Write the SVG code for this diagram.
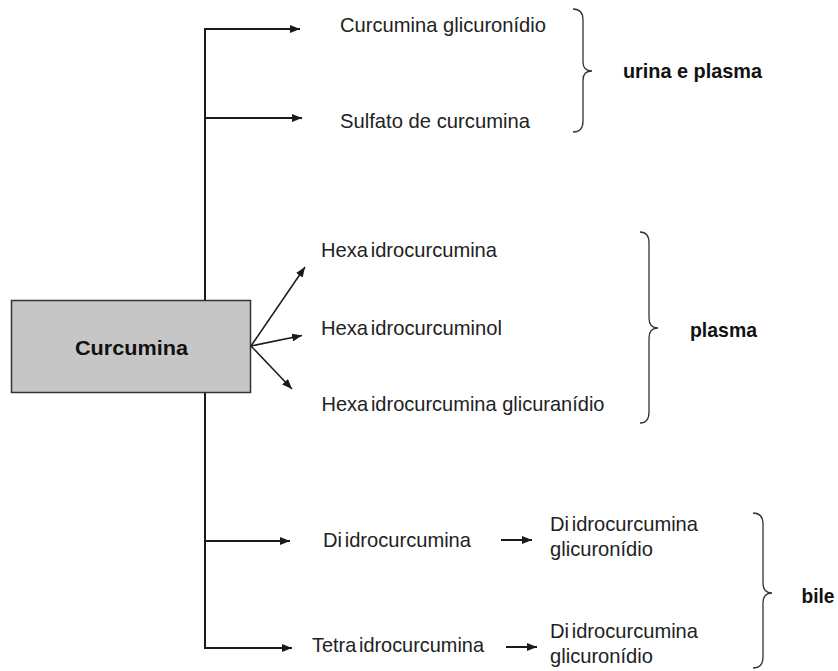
<svg xmlns="http://www.w3.org/2000/svg" width="838" height="671" viewBox="0 0 838 671">
<style>
  .t { font-family: "Liberation Sans", Arial, sans-serif; font-size: 21px; fill: #222; }
  .b { font-family: "Liberation Sans", Arial, sans-serif; font-size: 21px; font-weight: bold; fill: #111; }
  .ln { stroke: #1a1a1a; stroke-width: 2; fill: none; }
  .dg { stroke: #1a1a1a; stroke-width: 1.5; fill: none; }
  .br { stroke: #333; stroke-width: 1.3; fill: none; }
</style>
<defs>
  <marker id="ah" viewBox="0 0 10 8" refX="10" refY="4" markerWidth="10" markerHeight="8" markerUnits="userSpaceOnUse" orient="auto">
    <path d="M0,0 L10,4 L0,8 Z" fill="#1a1a1a"/>
  </marker>
</defs>
<rect width="838" height="671" fill="#fff"/>

<g id="connectors">
  <line class="ln" x1="205" y1="29" x2="205" y2="301"/>
  <line class="ln" x1="205" y1="393" x2="205" y2="648"/>
  <line class="ln" x1="204" y1="29" x2="300" y2="29" marker-end="url(#ah)"/>
  <line class="ln" x1="204" y1="118" x2="302" y2="118" stroke-width="2.5" marker-end="url(#ah)"/>
  <line class="dg" x1="251" y1="346" x2="305" y2="267" marker-end="url(#ah)"/>
  <line class="dg" x1="251" y1="346" x2="302" y2="335.5" marker-end="url(#ah)"/>
  <line class="dg" x1="251" y1="346" x2="292" y2="389" marker-end="url(#ah)"/>
  <line class="ln" x1="204" y1="541" x2="290" y2="541" marker-end="url(#ah)"/>
  <line class="ln" x1="204" y1="648" x2="292" y2="648" marker-end="url(#ah)"/>
  <line class="ln" x1="501" y1="540" x2="532" y2="540" marker-end="url(#ah)"/>
  <line class="ln" x1="506" y1="647" x2="537" y2="647" marker-end="url(#ah)"/>
</g>

<g id="curcumina">
  <rect x="11.5" y="300.5" width="239" height="92" fill="#c6c6c6" stroke="#333" stroke-width="1.5"/>
  <text class="b" x="75" y="355" font-size="23" textLength="113" lengthAdjust="spacingAndGlyphs">Curcumina</text>
</g>

<g id="curcumina-glicuronidio"><text class="t" x="340" y="32" textLength="206" lengthAdjust="spacingAndGlyphs">Curcumina glicuronídio</text></g>
<g id="sulfato-de-curcumina"><text class="t" x="340" y="128" textLength="190" lengthAdjust="spacingAndGlyphs">Sulfato de curcumina</text></g>
<g id="brace-urina">
  <path class="br" d="M573,9 Q583,9 583,20 L583,62 Q583,71 592,71 Q583,71 583,80 L583,121 Q583,132 573,132"/>
  <text class="b" x="623" y="77.5" textLength="139" lengthAdjust="spacingAndGlyphs">urina e plasma</text>
</g>

<g id="hexa-1"><text class="t" x="321" y="257" word-spacing="-3" textLength="176" lengthAdjust="spacingAndGlyphs">Hexa idrocurcumina</text></g>
<g id="hexa-2"><text class="t" x="321" y="335" word-spacing="-3" textLength="181" lengthAdjust="spacingAndGlyphs">Hexa idrocurcuminol</text></g>
<g id="hexa-3"><text class="t" x="321.5" y="411" textLength="283" lengthAdjust="spacingAndGlyphs"><tspan word-spacing="-3">Hexa idrocurcumina</tspan> glicuranídio</text></g>
<g id="brace-plasma">
  <path class="br" d="M640,232 Q649,232 649,243 L649,318 Q649,328 658,328 Q649,328 649,338 L649,412 Q649,423 640,423"/>
  <text class="b" x="690" y="337" textLength="67" lengthAdjust="spacingAndGlyphs">plasma</text>
</g>

<g id="diidrocurcumina"><text class="t" x="323" y="547" word-spacing="-3" textLength="148" lengthAdjust="spacingAndGlyphs">Di idrocurcumina</text></g>
<g id="tetraidrocurcumina"><text class="t" x="312" y="652" word-spacing="-3" textLength="172" lengthAdjust="spacingAndGlyphs">Tetra idrocurcumina</text></g>
<g id="diidro-glic-1">
  <text class="t" x="550" y="531" word-spacing="-3" textLength="148" lengthAdjust="spacingAndGlyphs">Di idrocurcumina</text>
  <text class="t" x="550" y="556" textLength="103" lengthAdjust="spacingAndGlyphs">glicuronídio</text>
</g>
<g id="diidro-glic-2">
  <text class="t" x="550" y="638" word-spacing="-3" textLength="148" lengthAdjust="spacingAndGlyphs">Di idrocurcumina</text>
  <text class="t" x="550" y="663" textLength="103" lengthAdjust="spacingAndGlyphs">glicuronídio</text>
</g>
<g id="brace-bile">
  <path class="br" d="M753,513 Q763,513 763,524 L763,583 Q763,593 772,593 Q763,593 763,603 L763,657 Q763,668 753,668"/>
  <text class="b" x="801.5" y="602.5" textLength="33" lengthAdjust="spacingAndGlyphs">bile</text>
</g>
</svg>
